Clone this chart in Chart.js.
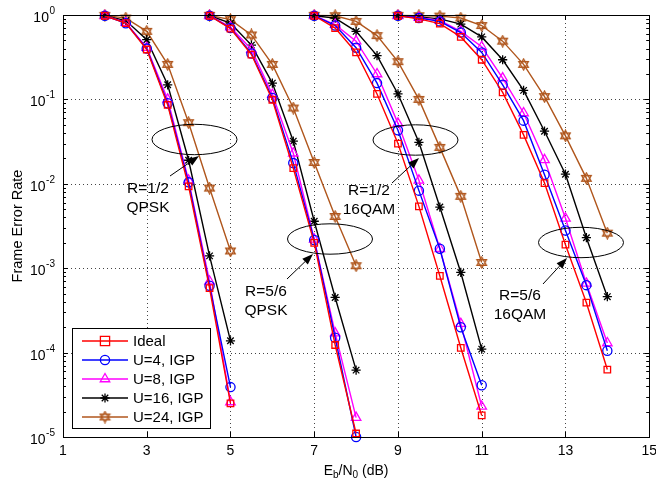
<!DOCTYPE html>
<html>
<head>
<meta charset="utf-8">
<script src="https://cdn.jsdelivr.net/npm/chart.js@4/dist/chart.umd.min.js"></script>
<style>
  html, body { margin: 0; padding: 0; background: #fff; }
  #wrap { width: 656px; height: 482px; }
</style>
</head>
<body>
<div id="wrap"><canvas id="fer" width="656" height="482"></canvas></div>
<script>
// Eb/N0 points (dB) for each of the four MCS groups
const groupX = [
  [2, 2.5, 3, 3.5, 4, 4.5, 5],
  [4.5, 5, 5.5, 6, 6.5, 7, 7.5, 8],
  [7, 7.5, 8, 8.5, 9, 9.5, 10, 10.5, 11],
  [9, 9.5, 10, 10.5, 11, 11.5, 12, 12.5, 13, 13.5, 14]
];

// frame error rates, one list per group
const ideal = [
  [0.98, 0.80, 0.39, 0.086, 0.0093, 5.8e-4, 2.5e-5],
  [0.98, 0.69, 0.34, 0.099, 0.0153, 0.0020, 1.23e-4, 1.1e-5],
  [0.98, 0.70, 0.36, 0.116, 0.030, 0.0054, 8.1e-4, 1.14e-4, 1.8e-5],
  [0.98, 0.90, 0.79, 0.55, 0.295, 0.121, 0.038, 0.0102, 0.0019, 3.9e-4, 6.3e-5]
];
const u4 = [
  [0.98, 0.80, 0.40, 0.090, 0.0104, 6.2e-4, 3.9e-5],
  [0.98, 0.70, 0.35, 0.104, 0.0176, 0.00216, 1.5e-4, 1.0e-5],
  [0.98, 0.75, 0.41, 0.156, 0.043, 0.0083, 0.0017, 2.0e-4, 4.1e-5],
  [0.98, 0.92, 0.84, 0.62, 0.36, 0.149, 0.056, 0.0128, 0.0028, 6.3e-4, 1.05e-4]
];
const u8 = [
  [0.98, 0.81, 0.41, 0.10, 0.011, 7.0e-4, 2.6e-5],
  [0.98, 0.72, 0.39, 0.114, 0.023, 0.0022, 1.7e-4, 1.7e-5],
  [0.98, 0.77, 0.49, 0.20, 0.052, 0.011, 0.0017, 2.2e-4, 2.3e-5],
  [0.98, 0.93, 0.86, 0.64, 0.42, 0.179, 0.069, 0.0192, 0.0039, 6.6e-4, 1.3e-4]
];
const u16 = [
  [0.98, 0.86, 0.51, 0.149, 0.019, 1.4e-3, 1.38e-4],
  [0.98, 0.80, 0.44, 0.156, 0.032, 0.0036, 4.5e-4, 6.2e-5],
  [0.98, 0.92, 0.64, 0.33, 0.116, 0.031, 0.0053, 8.9e-4, 1.1e-4],
  [0.98, 0.95, 0.90, 0.78, 0.55, 0.295, 0.128, 0.042, 0.013, 0.0023, 4.6e-4]
];
const u24 = [
  [0.99, 0.92, 0.64, 0.26, 0.053, 8.9e-3, 1.6e-3],
  [0.99, 0.88, 0.58, 0.26, 0.079, 0.0179, 0.0041, 1.07e-3],
  [0.99, 0.98, 0.84, 0.57, 0.28, 0.10, 0.027, 0.0071, 1.17e-3],
  [0.99, 0.98, 0.97, 0.92, 0.75, 0.49, 0.26, 0.108, 0.037, 0.0116, 0.0026]
];

const seriesNames = ['Ideal', 'U=4, IGP', 'U=8, IGP', 'U=16, IGP', 'U=24, IGP'];
const xTicks = [1, 3, 5, 7, 9, 11, 13, 15];
const yExponents = [0, -1, -2, -3, -4, -5];

// annotations: text lines, ellipse centre, arrow
const notes = [
  { lines: ['R=1/2', 'QPSK'], text: [148, 189], ell: [194.5, 139.5], tail: [170, 176], tip: [199, 156] },
  { lines: ['R=5/6', 'QPSK'], text: [266, 292], ell: [330, 239], tail: [287, 279], tip: [313, 254] },
  { lines: ['R=1/2', '16QAM'], text: [369, 191], ell: [415.5, 140], tail: [392, 183], tip: [419, 158] },
  { lines: ['R=5/6', '16QAM'], text: [520, 296], ell: [581, 242.5], tail: [543, 284], tip: [567, 258] }
];

const brown = '#b0561c';

function hexagram(size, color) {
  const c = document.createElement('canvas');
  c.width = size; c.height = size;
  const g = c.getContext('2d');
  const r = size / 2 - 1;
  g.strokeStyle = color;
  g.lineWidth = 1.3;
  for (let t = 0; t < 2; t++) {
    g.beginPath();
    for (let k = 0; k < 3; k++) {
      const a = -Math.PI / 2 + t * Math.PI + k * 2 * Math.PI / 3;
      const px = size / 2 + r * Math.cos(a), py = size / 2 + r * Math.sin(a);
      if (k === 0) g.moveTo(px, py); else g.lineTo(px, py);
    }
    g.closePath();
    g.stroke();
  }
  return c;
}
const hexImg = hexagram(13, brown);

const styles = [
  { color: '#ff0000', point: 'rect', radius: 4.6 },
  { color: '#0000ff', point: 'circle', radius: 4.6 },
  { color: '#ff00ff', point: 'triangle', radius: 5.5 },
  { color: '#000000', point: 'star', radius: 4.6 },
  { color: brown, point: hexImg, radius: 5 }
];

const allSeries = [ideal, u4, u8, u16, u24];
const datasets = [];
allSeries.forEach(function (ser, s) {
  ser.forEach(function (vals, g) {
    datasets.push({
      label: seriesNames[s],
      data: vals.map(function (v, i) { return { x: groupX[g][i], y: v }; }),
      borderColor: styles[s].color,
      backgroundColor: 'rgba(0,0,0,0)',
      borderWidth: 1.4,
      pointStyle: styles[s].point,
      pointRadius: styles[s].radius,
      pointBorderColor: styles[s].color,
      pointBackgroundColor: 'rgba(0,0,0,0)',
      pointBorderWidth: 1.3,
      tension: 0,
      clip: false
    });
  });
});

const FONT = '"Liberation Sans", Arial, sans-serif';

function drawMarker(ctx, s, x, y) {
  const st = styles[s];
  ctx.save();
  ctx.strokeStyle = st.color;
  ctx.lineWidth = 1.3;
  ctx.beginPath();
  if (st.point === 'rect') {
    ctx.rect(x - 4.6, y - 4.6, 9.2, 9.2);
  } else if (st.point === 'circle') {
    ctx.arc(x, y, 4.6, 0, Math.PI * 2);
  } else if (st.point === 'triangle') {
    const r = 5.5;
    ctx.moveTo(x, y - r);
    ctx.lineTo(x + r * 0.866, y + r * 0.5);
    ctx.lineTo(x - r * 0.866, y + r * 0.5);
    ctx.closePath();
  } else if (st.point === 'star') {
    const r = 4.6;
    for (let k = 0; k < 4; k++) {
      const a = k * Math.PI / 4;
      ctx.moveTo(x - r * Math.cos(a), y - r * Math.sin(a));
      ctx.lineTo(x + r * Math.cos(a), y + r * Math.sin(a));
    }
  }
  ctx.stroke();
  if (typeof st.point !== 'string') {
    ctx.drawImage(st.point, x - st.point.width / 2, y - st.point.height / 2);
  }
  ctx.restore();
}

const frame = {
  id: 'frame',
  beforeDatasetsDraw(chart) {
    const ctx = chart.ctx, a = chart.chartArea;
    const xs = chart.scales.x, ys = chart.scales.y;
    ctx.save();
    ctx.lineWidth = 1;
    ctx.setLineDash([1, 3]);
    ctx.strokeStyle = '#444';
    xTicks.forEach(function (v) {
      const px = Math.round(xs.getPixelForValue(v)) + 0.5;
      ctx.beginPath(); ctx.moveTo(px, a.top); ctx.lineTo(px, a.bottom); ctx.stroke();
    });
    yExponents.forEach(function (e) {
      const py = Math.round(ys.getPixelForValue(Math.pow(10, e))) + 0.5;
      ctx.beginPath(); ctx.moveTo(a.left, py); ctx.lineTo(a.right, py); ctx.stroke();
    });
    ctx.restore();
  },
  afterDraw(chart) {
    const ctx = chart.ctx, a = chart.chartArea;
    const xs = chart.scales.x, ys = chart.scales.y;
    ctx.save();
    ctx.strokeStyle = '#000';
    ctx.fillStyle = '#000';
    ctx.lineWidth = 1;
    // box
    ctx.strokeRect(Math.round(a.left) + 0.5, Math.round(a.top) + 0.5,
      Math.round(a.right - a.left), Math.round(a.bottom - a.top));
    // x ticks
    ctx.beginPath();
    xTicks.forEach(function (v) {
      const px = Math.round(xs.getPixelForValue(v)) + 0.5;
      ctx.moveTo(px, a.bottom); ctx.lineTo(px, a.bottom - 5);
      ctx.moveTo(px, a.top); ctx.lineTo(px, a.top + 5);
    });
    // y major and minor ticks
    yExponents.forEach(function (e) {
      for (let m = 1; m <= 9; m++) {
        const v = m * Math.pow(10, e);
        if (v > 1.0001 || v < 1e-5) continue;
        const py = Math.round(ys.getPixelForValue(v)) + 0.5;
        const len = m === 1 ? 5 : 3;
        ctx.moveTo(a.left, py); ctx.lineTo(a.left + len, py);
        ctx.moveTo(a.right, py); ctx.lineTo(a.right - len, py);
      }
    });
    ctx.stroke();

    // x tick labels
    ctx.font = '14px ' + FONT;
    ctx.textAlign = 'center';
    ctx.textBaseline = 'middle';
    xTicks.forEach(function (v) {
      ctx.fillText(String(v), xs.getPixelForValue(v), a.bottom + 14);
    });
    // y tick labels 10^e
    yExponents.forEach(function (e) {
      const py = ys.getPixelForValue(Math.pow(10, e));
      const exp = String(e);
      ctx.font = '10px ' + FONT;
      const ew = ctx.measureText(exp).width;
      ctx.textAlign = 'left';
      ctx.textBaseline = 'alphabetic';
      const right = 55;
      ctx.fillText(exp, right - ew, py - 1);
      ctx.font = '14px ' + FONT;
      ctx.textAlign = 'right';
      ctx.fillText('10', right - ew - 0.5, py + 7);
    });

    // axis titles
    ctx.textBaseline = 'alphabetic';
    const parts = [['E', 14, 0], ['b', 10, 3], ['/N', 14, 0], ['0', 10, 3], [' (dB)', 14, 0]];
    let total = 0;
    parts.forEach(function (p) { ctx.font = p[1] + 'px ' + FONT; total += ctx.measureText(p[0]).width; });
    let cx = (a.left + a.right) / 2 - total / 2;
    ctx.textAlign = 'left';
    parts.forEach(function (p) {
      ctx.font = p[1] + 'px ' + FONT;
      ctx.fillText(p[0], cx, 475 + p[2]);
      cx += ctx.measureText(p[0]).width;
    });
    ctx.save();
    ctx.translate(22, (a.top + a.bottom) / 2);
    ctx.rotate(-Math.PI / 2);
    ctx.font = '14.5px ' + FONT;
    ctx.textAlign = 'center';
    ctx.fillText('Frame Error Rate', 0, 0);
    ctx.restore();

    // annotations
    notes.forEach(function (n) {
      ctx.lineWidth = 1;
      ctx.beginPath();
      ctx.ellipse(n.ell[0], n.ell[1], 42.5, 15.2, 0, 0, Math.PI * 2);
      ctx.stroke();
      const dx = n.tip[0] - n.tail[0], dy = n.tip[1] - n.tail[1];
      const L = Math.sqrt(dx * dx + dy * dy), ux = dx / L, uy = dy / L;
      const hl = 11, hw = 4;
      const bx = n.tip[0] - ux * hl, by = n.tip[1] - uy * hl;
      ctx.beginPath();
      ctx.moveTo(n.tail[0], n.tail[1]); ctx.lineTo(bx, by); ctx.stroke();
      ctx.beginPath();
      ctx.moveTo(n.tip[0], n.tip[1]);
      ctx.lineTo(bx - uy * hw, by + ux * hw);
      ctx.lineTo(bx + uy * hw, by - ux * hw);
      ctx.closePath();
      ctx.fill();
      ctx.font = '15.5px ' + FONT;
      ctx.textAlign = 'center';
      ctx.textBaseline = 'middle';
      ctx.fillText(n.lines[0], n.text[0], n.text[1]);
      ctx.fillText(n.lines[1], n.text[0], n.text[1] + 19);
    });

    // legend
    const lx = 72, ly = 328, lw = 138, lh = 100;
    ctx.fillStyle = '#fff';
    ctx.fillRect(lx, ly, lw, lh);
    ctx.strokeStyle = '#000';
    ctx.lineWidth = 1;
    ctx.strokeRect(lx + 0.5, ly + 0.5, lw, lh);
    seriesNames.forEach(function (name, s) {
      const y = ly + 13 + s * 19;
      ctx.strokeStyle = styles[s].color;
      ctx.lineWidth = 1.4;
      ctx.beginPath(); ctx.moveTo(82, y); ctx.lineTo(128, y); ctx.stroke();
      drawMarker(ctx, s, 105, y);
      ctx.fillStyle = '#000';
      ctx.font = '15px ' + FONT;
      ctx.textAlign = 'left';
      ctx.textBaseline = 'middle';
      ctx.fillText(name, 133, y + 1);
    });
    ctx.restore();
  }
};

new Chart(document.getElementById('fer').getContext('2d'), {
  type: 'line',
  data: { datasets: datasets },
  options: {
    responsive: false,
    animation: false,
    layout: { padding: { left: 63, right: 5, top: 15, bottom: 45 } },
    plugins: { legend: { display: false }, tooltip: { enabled: false } },
    scales: {
      x: { type: 'linear', min: 1, max: 15, display: false },
      y: { type: 'logarithmic', min: 1e-5, max: 1, display: false }
    }
  },
  plugins: [frame]
});
</script>
</body>
</html>
